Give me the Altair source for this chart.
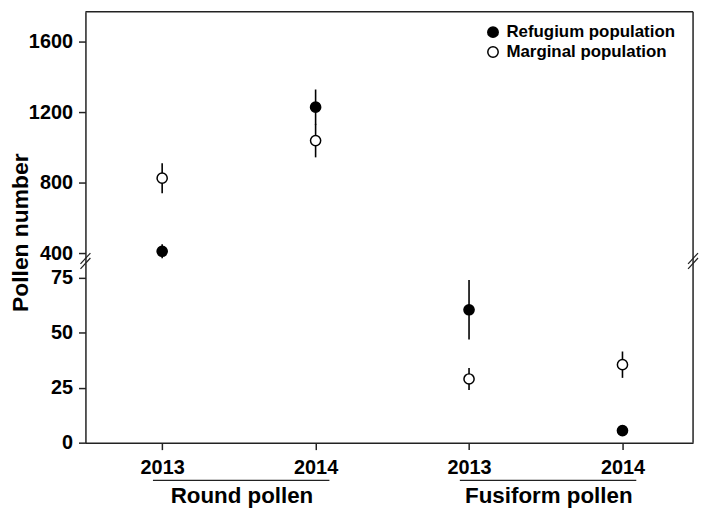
import altair as alt
import pandas as pd

# ---- data ----
groups = ["Round pollen", "Round pollen", "Fusiform pollen", "Fusiform pollen"]
years = ["2013", "2014", "2013", "2014"]
populations = ["Refugium population", "Marginal population"]
refugium_mean = [410, 1228, 60.5, 5.5]
refugium_se = [40, 100, 13.5, 0.8]
marginal_mean = [825, 1038, 29, 35.5]
marginal_se = [85, 95, 5, 6]
upper_ticks = [400, 800, 1200, 1600]
lower_ticks = [0, 25, 50, 75]
y_title = "Pollen number"

rows = []
for i in range(len(groups)):
    for pop, m, s in ((populations[0], refugium_mean[i], refugium_se[i]),
                      (populations[1], marginal_mean[i], marginal_se[i])):
        rows.append(dict(pos=i + 1, group=groups[i], year=years[i],
                         population=pop, mean=m, lo=m - s, hi=m + s))
df = pd.DataFrame(rows)

grp_rows = []
for g in dict.fromkeys(groups):
    ps = [i + 1 for i, gg in enumerate(groups) if gg == g]
    grp_rows.append(dict(group=g, start=min(ps) - 0.06, end=max(ps) + 0.09,
                         center=(min(ps) + max(ps)) / 2 + 0.02))
dfg = pd.DataFrame(grp_rows)

FONT = "Liberation Sans"
INK = "#222222"
W, H1, H2 = 612, 253, 181

xscale = alt.Scale(domain=[0.5, 4.46], nice=False, zero=False)
yscale_u = alt.Scale(domain=[343.7, 1769], nice=False, zero=False)
yscale_l = alt.Scale(domain=[0, 81.8], nice=False, zero=False)

fill_scale = alt.Scale(domain=populations, range=["black", "white"])
one = pd.DataFrame({"k": [0]})

label_expr = "[" + ",".join("'%s'" % y for y in years) + "][datum.value - 1]"

axis_u = alt.Axis(values=upper_ticks, format="d", title=y_title, titleX=-53,
                  titleY=222, titleAngle=270, titleBaseline="bottom",
                  titleAlign="center", labelPadding=6, grid=False)
axis_l = alt.Axis(values=lower_ticks, format="d", title=None, labelPadding=6,
                  grid=False)
axis_x = alt.Axis(values=[1, 2, 3, 4], labelExpr=label_expr, title=None,
                  labelPadding=8, labelFlush=False, grid=False)


def panel(data, yscale, yaxis, xaxis, legend):
    base = alt.Chart(data)
    err = base.mark_rule(color="black", strokeWidth=1.6).encode(
        x=alt.X("pos:Q", scale=xscale, axis=xaxis),
        y=alt.Y("lo:Q", scale=yscale, axis=yaxis),
        y2="hi:Q",
    )
    pts = base.mark_circle(size=105, stroke="black", strokeWidth=1.5,
                           opacity=1).encode(
        x=alt.X("pos:Q", scale=xscale, axis=xaxis),
        y=alt.Y("mean:Q", scale=yscale, axis=yaxis),
        fill=alt.Fill("population:N", scale=fill_scale, legend=legend),
    )
    return err, pts


def slashes(xpix, ypix):
    out = []
    for dy in (0, 5):
        out.append(alt.Chart(one).mark_rule(color=INK, strokeWidth=1.2).encode(
            x=alt.value(xpix - 5), x2=alt.value(xpix + 5),
            y=alt.value(ypix + 3 + dy - 2), y2=alt.value(ypix - 8 + dy - 2)))
    return out


legend = alt.Legend(title=None, orient="none", legendX=402, legendY=12,
                    labelFont=FONT, labelFontSize=17, labelFontWeight="bold",
                    labelColor="black", labelLimit=400, symbolType="circle",
                    symbolSize=110, symbolStrokeColor="black",
                    symbolStrokeWidth=1.5, labelOffset=5, rowPadding=2,
                    padding=0)

err_u, pts_u = panel(df[df.group == groups[0]], yscale_u, axis_u, None, legend)
err_l, pts_l = panel(df[df.group == groups[2]], yscale_l, axis_l, axis_x, None)

frame_top = alt.Chart(one).mark_rule(color=INK, strokeWidth=1.5).encode(y=alt.value(0))
frame_right = alt.Chart(one).mark_rule(color=INK, strokeWidth=1.5).encode(x=alt.value(W))

upper = alt.layer(frame_top, frame_right, err_u, pts_u,
                  *slashes(0, H1), *slashes(W, H1)).properties(width=W, height=H1)

brackets = alt.Chart(dfg).mark_rule(color=INK, strokeWidth=1.2).encode(
    x=alt.X("start:Q", scale=xscale), x2="end:Q", y=alt.value(H2 + 38))
glabels = alt.Chart(dfg).mark_text(font=FONT, fontSize=22.5, fontWeight="bold",
                                   color="black", baseline="alphabetic").encode(
    x=alt.X("center:Q", scale=xscale), y=alt.value(H2 + 61), text="group:N")

lower = alt.layer(frame_right, err_l, pts_l, brackets, glabels).properties(
    width=W, height=H2)

chart = (
    alt.vconcat(upper, lower, spacing=0, bounds="flush")
    .resolve_scale(y="independent", fill="independent")
    .resolve_legend(fill="independent")
    .properties(padding={"left": 1, "top": 0, "right": 1, "bottom": 0})
    .configure_view(stroke="transparent")
    .configure_axis(domainColor=INK, domainWidth=1.5, tickColor=INK,
                    tickWidth=1.5, tickSize=7, labelFont=FONT,
                    labelFontSize=20, labelFontWeight="bold",
                    labelColor="black", titleFont=FONT, titleFontSize=23,
                    titleFontWeight="bold", titleColor="black")
)

chart.save("out.html", embed_options={"renderer": "svg", "actions": False})
